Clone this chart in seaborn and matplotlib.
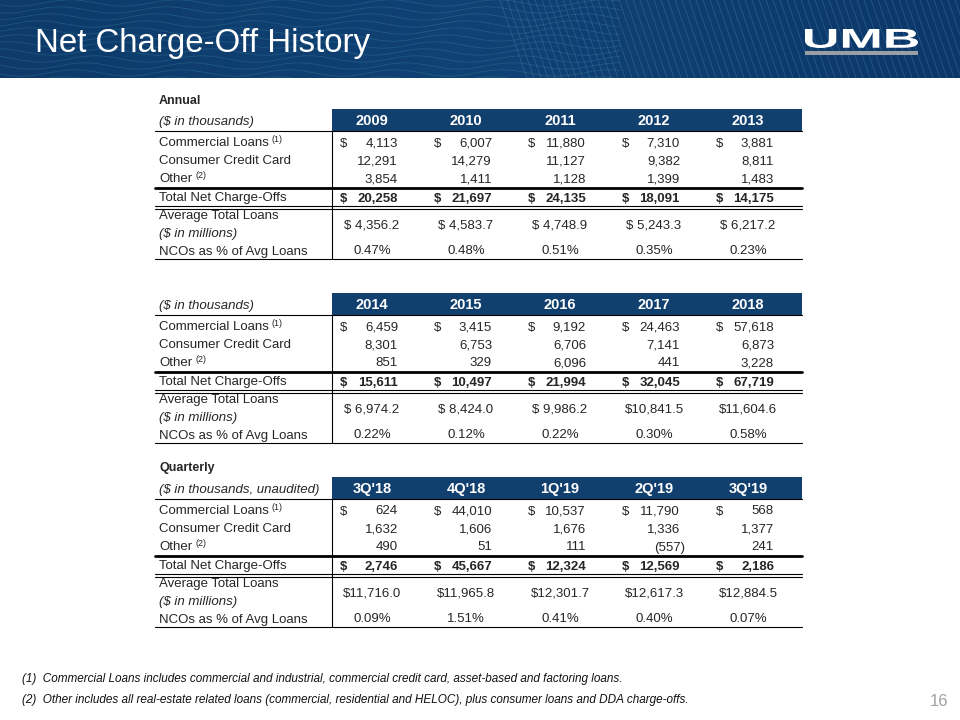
import matplotlib
matplotlib.use("Agg")
import matplotlib.pyplot as plt
import numpy as np
import seaborn as sns
from matplotlib.font_manager import FontProperties
from matplotlib.patches import PathPatch, Rectangle
from matplotlib.textpath import TextPath
from matplotlib.transforms import Affine2D

# annual, first block
years_a = ["2009", "2010", "2011", "2012", "2013"]
commercial_a = [4113, 6007, 11880, 7310, 3881]
consumer_a = [12291, 14279, 11127, 9382, 8811]
other_a = [3854, 1411, 1128, 1399, 1483]
total_a = [20258, 21697, 24135, 18091, 14175]
avg_loans_a = [4356.2, 4583.7, 4748.9, 5243.3, 6217.2]
nco_pct_a = [0.47, 0.48, 0.51, 0.35, 0.23]

# annual, second block
years_b = ["2014", "2015", "2016", "2017", "2018"]
commercial_b = [6459, 3415, 9192, 24463, 57618]
consumer_b = [8301, 6753, 6706, 7141, 6873]
other_b = [851, 329, 6096, 441, 3228]
total_b = [15611, 10497, 21994, 32045, 67719]
avg_loans_b = [6974.2, 8424.0, 9986.2, 10841.5, 11604.6]
nco_pct_b = [0.22, 0.12, 0.22, 0.30, 0.58]

# quarterly
quarters = ["3Q'18", "4Q'18", "1Q'19", "2Q'19", "3Q'19"]
commercial_q = [624, 44010, 10537, 11790, 568]
consumer_q = [1632, 1606, 1676, 1336, 1377]
other_q = [490, 51, 111, -557, 241]
total_q = [2746, 45667, 12324, 12569, 2186]
avg_loans_q = [11716.0, 11965.8, 12301.7, 12617.3, 12884.5]
nco_pct_q = [0.09, 1.51, 0.41, 0.40, 0.07]

footnotes = [
    "(1)  Commercial Loans includes commercial and industrial, commercial credit card, asset-based and factoring loans.",
    "(2)  Other includes all real-estate related loans (commercial, residential and HELOC), plus consumer loans and DDA charge-offs.",
]

sns.set_theme(style="white")
plt.rcParams["font.family"] = ["Liberation Sans", "DejaVu Sans"]

NAVY = "#11406f"
FS = 9.5

fig = plt.figure(figsize=(9.6, 7.2), dpi=100)
ax = fig.add_axes([0, 0, 1, 1])

# banner
pal = sns.blend_palette(["#0d3a6a", "#114275", "#0c3769"], n_colors=256)
grad = np.array(pal)[None, :, :]
ax.imshow(grad, extent=(0, 960, 78, 0), aspect="auto", zorder=0)
clip = Rectangle((0, 0), 960, 78, transform=ax.transData)
xw = np.linspace(0, 620, 400)
for k in range(13):
    yw = -4 + k * 7 + 3.2 * np.sin(xw / 17 + k * 0.6)
    ln, = ax.plot(xw, yw, color="#3f9aa6", lw=0.6, alpha=0.3, zorder=1)
    ln.set_clip_path(clip)
for x0 in np.arange(500, 1000, 7):
    ln, = ax.plot([x0, x0 + 27], [0, 78], color="#5a8fc4", lw=0.6, alpha=0.35, zorder=1)
    ln.set_clip_path(clip)

ax.text(35, 52, "Net Charge-Off History", color="white", fontsize=23.8, zorder=3)

# logo
tp = TextPath((0, 0), "UMB", size=1, prop=FontProperties(family="Liberation Sans", weight="bold"))
ext = tp.get_extents()
sx = 113 / ext.width
sy = 19 / ext.height
tr = Affine2D().translate(-ext.x0, -ext.y0).scale(sx, -sy).translate(805, 48)
ax.add_patch(PathPatch(tr.transform_path(tp), facecolor="white", edgecolor="none", zorder=3))
ax.add_patch(Rectangle((805, 51), 113, 3.5, facecolor="#9a9fa6", edgecolor="none", zorder=3))

renderer = fig.canvas.get_renderer()


def label_with_sup(x, y, text, sup):
    t = ax.text(x, y, text, fontsize=FS, ha="left", va="baseline")
    bb = t.get_window_extent(renderer)
    xr = ax.transData.inverted().transform((bb.x1, bb.y0))[0]
    ax.text(xr + 3, y - 5, sup, fontsize=6.5, ha="left", va="baseline")


def fmt_num(v):
    return f"{v:,}" if v >= 0 else f"({-v:,})"


def fmt_avg(v):
    s = f"{v:,.1f}"
    return "$" + s if v >= 10000 else "$ " + s


def draw_table(base, cols, commercial, consumer, other, total, avg, pct, title, unit):
    lx = 159
    if title:
        ax.text(lx, base + 103.5, title, fontsize=9, fontweight="bold", va="baseline")
    ax.text(lx, base + 125, unit, fontsize=FS, style="italic", va="baseline")
    ax.add_patch(Rectangle((332, base + 109), 470, 22, facecolor=NAVY, edgecolor="none"))
    for i, c in enumerate(cols):
        ax.text(372 + 94 * i, base + 125, c, color="white", fontsize=10.5,
                fontweight="bold", ha="center", va="baseline")

    label_with_sup(lx, base + 146.5, "Commercial Loans", "(1)")
    ax.text(lx, base + 164.5, "Consumer Credit Card", fontsize=FS, va="baseline")
    label_with_sup(lx, base + 182.5, "Other", "(2)")
    ax.text(lx, base + 201.5, "Total Net Charge-Offs", fontsize=FS, va="baseline")
    ax.text(lx, base + 219.5, "Average Total Loans", fontsize=FS, va="baseline")
    ax.text(lx, base + 237.5, "($ in millions)", fontsize=FS, style="italic", va="baseline")
    ax.text(lx, base + 254.5, "NCOs as % of Avg Loans", fontsize=FS, va="baseline")

    for i in range(len(cols)):
        left = 332 + 94 * i
        xd, xr, xc = left + 8, left + 66, left + 40
        ax.text(xd, base + 146.5, "$", fontsize=FS, va="baseline")
        for v, y in [(commercial[i], 146.5), (consumer[i], 164.5), (other[i], 182.5)]:
            ax.text(xr + (5 if v < 0 else 0), base + y, fmt_num(v), fontsize=FS,
                    ha="right", va="baseline")
        ax.text(xd, base + 201.5, "$", fontsize=FS, fontweight="bold", va="baseline")
        ax.text(xr, base + 201.5, fmt_num(total[i]), fontsize=FS, fontweight="bold",
                ha="right", va="baseline")
        ax.text(xc, base + 228.5, fmt_avg(avg[i]), fontsize=FS, ha="center", va="baseline")
        ax.text(xc, base + 254.5, f"{pct[i]:.2f}%", fontsize=FS, ha="center", va="baseline")

    ax.plot([155, 802], [base + 131, base + 131], color="black", lw=0.8)
    ax.plot([155, 802], [base + 187.5, base + 187.5], color="black", lw=2.0)
    ax.plot([155, 802], [base + 205.5, base + 205.5], color="black", lw=0.8)
    ax.plot([155, 802], [base + 208.5, base + 208.5], color="black", lw=0.8)
    ax.plot([155, 802], [base + 259, base + 259], color="black", lw=0.8)
    ax.plot([332, 332], [base + 131, base + 259], color="black", lw=0.8)


draw_table(0, years_a, commercial_a, consumer_a, other_a, total_a, avg_loans_a,
           nco_pct_a, "Annual", "($ in thousands)")
draw_table(184, years_b, commercial_b, consumer_b, other_b, total_b, avg_loans_b,
           nco_pct_b, None, "($ in thousands)")
draw_table(368, quarters, commercial_q, consumer_q, other_q, total_q, avg_loans_q,
           nco_pct_q, "Quarterly", "($ in thousands, unaudited)")

for k, note in enumerate(footnotes):
    ax.text(22, 682 + 21 * k, note, fontsize=8.5, style="italic", va="baseline", color="#111111")
ax.text(948, 706, "16", fontsize=12, color="#a0a0a0", ha="right", va="baseline")

ax.set_xlim(0, 960)
ax.set_ylim(720, 0)
ax.axis("off")
fig.savefig("out.png", dpi=100)
